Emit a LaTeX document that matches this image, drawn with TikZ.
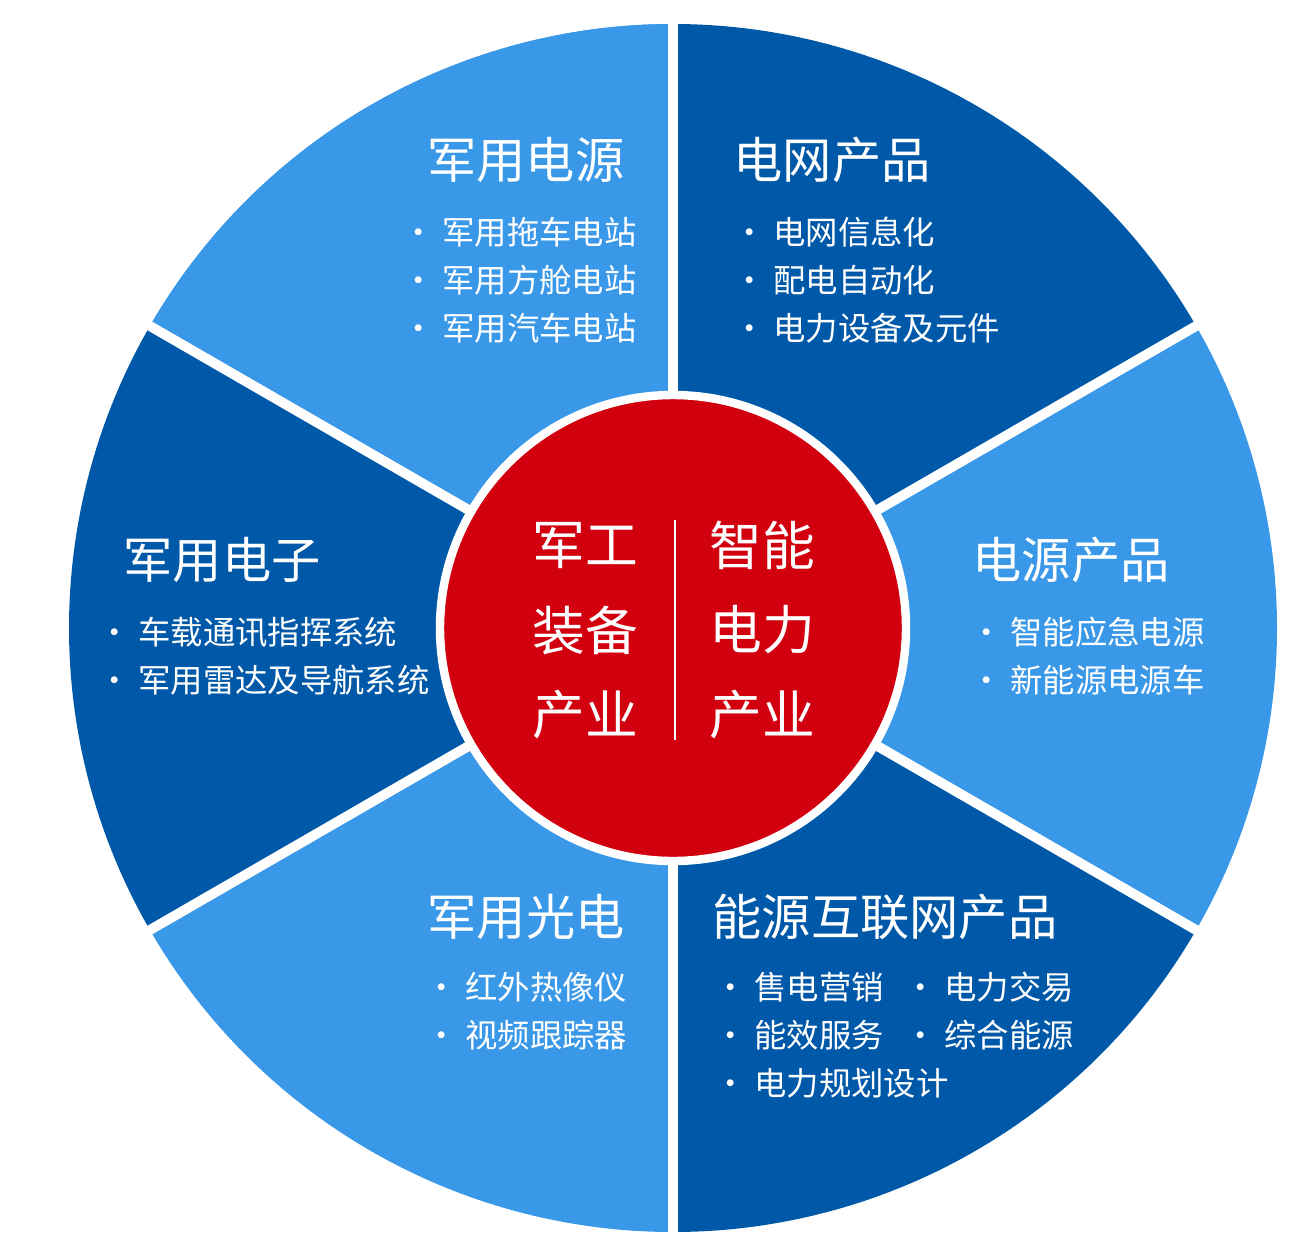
\documentclass[tikz,border=0pt]{standalone}
\usepackage{fontspec}
\setmainfont{Noto Sans CJK SC}
\definecolor{lightb}{HTML}{3A98E8}
\definecolor{darkb}{HTML}{0059A8}
\definecolor{redc}{HTML}{D2000F}
\tikzset{
  title/.style={text=white,font=\fontsize{14}{16}\selectfont,inner sep=0pt},
  item/.style={text=white,font=\fontsize{9.2}{11}\selectfont,inner sep=0pt,anchor=west},
  core/.style={text=white,font=\fontsize{15}{17}\selectfont,inner sep=0pt}
}
\begin{document}
\begin{tikzpicture}[x=0.01cm,y=-0.01cm]
\useasboundingbox (0,0) rectangle (1294,1242);
\coordinate (c) at (673,628);
\fill[lightb] (c) -- ++(90:-604) arc[start angle=-90,end angle=-150,radius=604] -- cycle;
\foreach \a/\col in {90/lightb,30/darkb,-30/lightb,-90/darkb,-150/lightb,150/darkb}
  \fill[\col] (c) -- +(\a:604) arc[start angle=\a,end angle=\a+60,radius=604] -- cycle;
\foreach \a in {90,30,-30,-90,-150,150}
  \draw[white,line width=2.8pt] (c) -- +(\a:610);
\fill[redc,draw=white,line width=2.4pt] (c) circle (233);
\draw[white,line width=0.5pt] (675,520) -- (675,740);
% titles
\node[title,anchor=east] (t1) at (625,160) {军用电源};
\node[title,anchor=west] (t2) at (733,160) {电网产品};
\node[title,anchor=west] (t3) at (972,560) {电源产品};
\node[title,anchor=west] (t4) at (123,560) {军用电子};
\node[title,anchor=west] (t5) at (427,917) {军用光电};
\node[title,anchor=west] (t6) at (712,917) {能源互联网产品};
% items
\node[item] (i11) at (402,232) {· 军用拖车电站};
\node[item] (i12) at (402,280) {· 军用方舱电站};
\node[item] (i13) at (402,328) {· 军用汽车电站};
\node[item] (i21) at (733,232) {· 电网信息化};
\node[item] (i22) at (733,280) {· 配电自动化};
\node[item] (i23) at (733,328) {· 电力设备及元件};
\node[item] (i31) at (970,632) {· 智能应急电源};
\node[item] (i32) at (970,680) {· 新能源电源车};
\node[item] (i41) at (98,632) {· 车载通讯指挥系统};
\node[item] (i42) at (98,680) {· 军用雷达及导航系统};
\node[item] (i51) at (425,987) {· 红外热像仪};
\node[item] (i52) at (425,1035) {· 视频跟踪器};
\node[item] (i61) at (714,987) {· 售电营销};
\node[item] (i62) at (904,987) {· 电力交易};
\node[item] (i63) at (714,1035) {· 能效服务};
\node[item] (i64) at (904,1035) {· 综合能源};
\node[item] (i65) at (714,1083) {· 电力规划设计};
% centre
\node[core] (m1) at (585,545) {军工};
\node[core] (m2) at (585,630) {装备};
\node[core] (m3) at (585,715) {产业};
\node[core] (s1) at (762,545) {智能};
\node[core] (s2) at (762,630) {电力};
\node[core] (s3) at (762,715) {产业};
\end{tikzpicture}
\end{document}
